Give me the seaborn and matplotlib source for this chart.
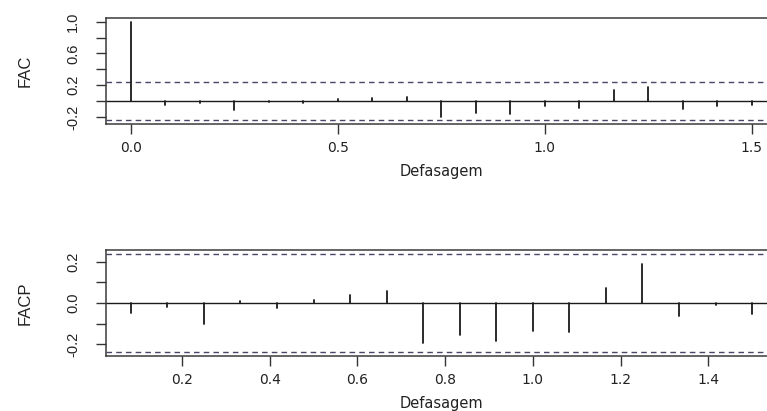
import matplotlib
matplotlib.use("Agg")
import matplotlib.pyplot as plt
import numpy as np
import pandas as pd
import seaborn as sns

# Defasagens (em anos, série mensal) e coeficientes estimados
defasagens_fac = [0.0, 0.0833, 0.1667, 0.25, 0.3333, 0.4167, 0.5, 0.5833, 0.6667,
                  0.75, 0.8333, 0.9167, 1.0, 1.0833, 1.1667, 1.25, 1.3333, 1.4167, 1.5]
fac = [1.0, -0.05, -0.02, -0.105, -0.015, -0.02, 0.025, 0.035, 0.055,
       -0.2, -0.15, -0.165, -0.06, -0.08, 0.14, 0.177, -0.10, -0.06, -0.05]

defasagens_facp = defasagens_fac[1:]
facp = [-0.05, -0.02, -0.10, 0.01, -0.025, 0.013, 0.04, 0.056,
        -0.192, -0.153, -0.182, -0.134, -0.142, 0.073, 0.189, -0.063, -0.01, -0.055]

# Limite de confiança (±1.96/sqrt(n))
limite = 0.2377

fac_ticks = [-0.2, 0.0, 0.2, 0.4, 0.6, 0.8, 1.0]
fac_ticklabels = ["-0.2", "", "0.2", "", "0.6", "", "1.0"]
facp_ticks = [-0.2, -0.1, 0.0, 0.1, 0.2]
facp_ticklabels = ["-0.2", "", "0.0", "", "0.2"]
fac_xticks = [0.0, 0.5, 1.0, 1.5]
facp_xticks = [0.2, 0.4, 0.6, 0.8, 1.0, 1.2, 1.4]

sns.set_style("white")
plt.rcParams["font.family"] = ["DejaVu Sans"]
plt.rcParams["axes.unicode_minus"] = False

W, H = 767, 411
fig = plt.figure(figsize=(W / 100, H / 100), dpi=100)


def px_axes(left, top, right, bottom):
    return fig.add_axes([left / W, 1 - bottom / H, (right - left) / W, (bottom - top) / H])


def spikes(ax, lags, vals):
    rows = []
    for l, v in zip(lags, vals):
        rows.append({"lag": l, "valor": 0.0})
        rows.append({"lag": l, "valor": v})
    df = pd.DataFrame(rows)
    sns.lineplot(data=df, x="lag", y="valor", units="lag", estimator=None,
                 color="#1a1a1a", lw=1.3, ax=ax, legend=False)


def style(ax, ylabel, yticks, ylabels, xticks, xlim, ylim):
    ax.set_xlim(*xlim)
    ax.set_ylim(*ylim)
    ax.axhline(0, color="#1a1a1a", lw=1.0, zorder=1)
    for s in (limite, -limite):
        ax.axhline(s, color="#4a4668", lw=1.0, ls=(0, (4, 3)), zorder=1)
    ax.set_yticks(yticks)
    ax.set_yticklabels(ylabels, rotation=90, va="center",
                       family="Liberation Sans", fontsize=10.5)
    ax.set_xticks(xticks)
    ax.set_xticklabels([f"{t:.1f}" for t in xticks], fontsize=10)
    ax.tick_params(axis="both", direction="out", length=7.5, width=1.0,
                   color="#333333", labelcolor="#222222", left=True, bottom=True)
    ax.tick_params(axis="x", pad=5)
    ax.tick_params(axis="y", pad=11)
    for sp in ax.spines.values():
        sp.set_color("#3a3a3a")
        sp.set_linewidth(1.1)
    ax.set_xlabel("Defasagem", fontsize=10.5, color="#222222", labelpad=6)
    ax.set_ylabel(ylabel, fontsize=12, family="Liberation Sans", color="#222222",
                  labelpad=24)


ax1 = px_axes(106, 17.7, 776.5, 124)
spikes(ax1, defasagens_fac, fac)
style(ax1, "FAC", fac_ticks, fac_ticklabels, fac_xticks,
      (-0.06, 1.56), (-0.2872, 1.0495))

ax2 = px_axes(106, 250, 777, 356)
spikes(ax2, defasagens_facp, facp)
style(ax2, "FACP", facp_ticks, facp_ticklabels, facp_xticks,
      (0.0267, 1.5567), (-0.2567, 0.2567))

fig.savefig("out.png", dpi=100, facecolor="white")
